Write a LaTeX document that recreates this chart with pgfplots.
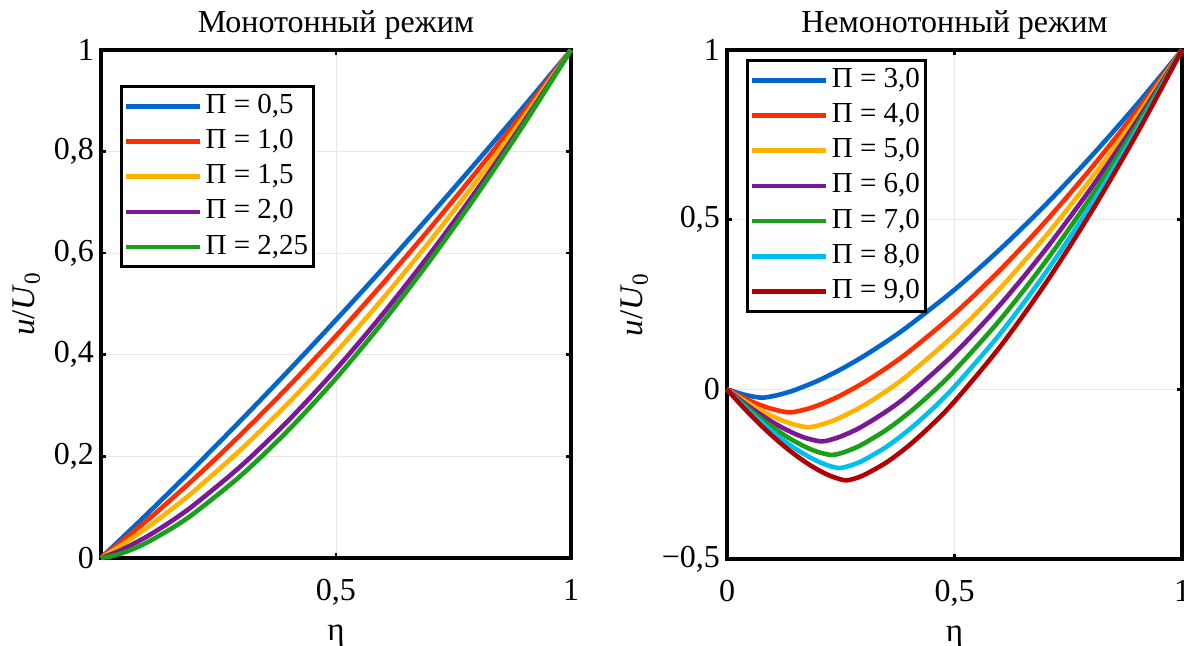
\documentclass[border=0pt]{standalone}
\usepackage{fontspec}
\setmainfont{Liberation Serif}
\usepackage{pgfplots}
\pgfplotsset{compat=1.18}

\definecolor{cA}{RGB}{0,102,204}
\definecolor{cB}{RGB}{255,45,0}
\definecolor{cC}{RGB}{255,178,0}
\definecolor{cD}{RGB}{122,24,150}
\definecolor{cE}{RGB}{24,160,24}
\definecolor{cF}{RGB}{0,190,240}
\definecolor{cG}{RGB}{178,0,0}

\pgfplotsset{
  panel/.style={
    scale only axis, clip=false, anchor=south west,
    axis line style={line width=1.6pt},
    grid=major, major grid style={line width=0.4pt, gray!18},
    tick style={line width=1.3pt, black}, major tick length=2.5pt, tick align=inside,
    tick label style={font=\fontsize{16}{18}\selectfont},
    label style={font=\fontsize{16.5}{18}\selectfont},
    title style={font=\fontsize{16}{18}\selectfont, yshift=-4pt},
    xticklabel shift=7pt,
    xlabel style={yshift=-3pt},
    every axis plot/.append style={line width=2.3pt, smooth, line join=round},
    legend cell align=left,
    legend style={draw=black, line width=1.6pt, anchor=north west,
      font=\fontsize{14.5}{16}\selectfont, inner sep=1pt, row sep=0pt,
      nodes={text height=10.5pt, text depth=3.5pt, inner sep=1.8pt}},
    legend image code/.code={\draw[#1, line width=2.3pt] (0pt,0pt) -- (37pt,0pt);},
  }
}

\begin{document}
\begin{tikzpicture}
\begin{axis}[panel, at={(50.5pt,44pt)}, width=235pt, height=254pt,
  xmin=0, xmax=1, ymin=0, ymax=1,
  xtick={0.5,1}, xticklabels={{0,5},{1}},
  ytick={0,0.2,0.4,0.6,0.8,1}, yticklabels={{0},{0,2},{0,4},{0,6},{0,8},{1}},
  xlabel={η}, ylabel={\textit{u}/\textit{U}\textsubscript{0}},
  title={Монотонный режим},
  legend style={at={(0.04,0.931)}}]
\addplot[cA] coordinates {(0,0)(0.1,0.0883)(0.2,0.1795)(0.3,0.2733)(0.4,0.3697)(0.5,0.4687)(0.6,0.5702)(0.7,0.6742)(0.8,0.7805)(0.9,0.8891)(1,1)};
\addlegendentry{Π = 0,5}
\addplot[cB] coordinates {(0,0)(0.1,0.0756)(0.2,0.1575)(0.3,0.2453)(0.4,0.3386)(0.5,0.4372)(0.6,0.5407)(0.7,0.6489)(0.8,0.7616)(0.9,0.8787)(1,1)};
\addlegendentry{Π = 1,0}
\addplot[cC] coordinates {(0,0)(0.05,0.0290)(0.1,0.0611)(0.15,0.0960)(0.2,0.1334)(0.3,0.2155)(0.4,0.3063)(0.5,0.4050)(0.6,0.5110)(0.7,0.6239)(0.8,0.7432)(0.9,0.8687)(1,1)};
\addlegendentry{Π = 1,5}
\addplot[cD] coordinates {(0,0)(0.025,0.0086)(0.05,0.0188)(0.1,0.0434)(0.15,0.0727)(0.2,0.1060)(0.3,0.1829)(0.4,0.2719)(0.5,0.3715)(0.6,0.4807)(0.7,0.5987)(0.8,0.7249)(0.9,0.8588)(1,1)};
\addlegendentry{Π = 2,0}
\addplot[cE] coordinates {(0,0)(0.025,0.0040)(0.05,0.0112)(0.075,0.0205)(0.1,0.0316)(0.15,0.0581)(0.2,0.0894)(0.3,0.1643)(0.4,0.2530)(0.5,0.3536)(0.6,0.4648)(0.7,0.5857)(0.8,0.7155)(0.9,0.8538)(1,1)};
\addlegendentry{Π = 2,25}
\end{axis}

\begin{axis}[panel, at={(363.5pt,43.5pt)}, width=227.5pt, height=254.5pt,
  xmin=0, xmax=1, ymin=-0.5, ymax=1,
  xtick={0,0.5,1}, xticklabels={{0},{0,5},{1}},
  ytick={-0.5,0,0.5,1}, yticklabels={{−0,5},{0},{0,5},{1}},
  xlabel={η}, ylabel={\textit{u}/\textit{U}\textsubscript{0}},
  title={Немонотонный режим},
  legend style={at={(0.042,0.982)}}]
\addplot[cA] coordinates {(0,0)(0.025,-0.0109)(0.05,-0.0195)(0.0767,-0.0245)(0.1,-0.0204)(0.125,-0.0122)(0.15,-0.0016)(0.2,0.0255)(0.25,0.0588)(0.3,0.0974)(0.35,0.1405)(0.4,0.1878)(0.5,0.2936)(0.6,0.4127)(0.7,0.5438)(0.8,0.6859)(0.9,0.8382)(1,1)};
\addlegendentry{Π = 3,0}
\addplot[cB] coordinates {(0,0)(0.025,-0.0177)(0.05,-0.0335)(0.075,-0.0472)(0.1,-0.0583)(0.1375,-0.0680)(0.175,-0.0583)(0.2,-0.0472)(0.225,-0.0335)(0.25,-0.0177)(0.3,0.0194)(0.35,0.0626)(0.4,0.1113)(0.5,0.2230)(0.6,0.3514)(0.7,0.4945)(0.8,0.6510)(0.9,0.8198)(1,1)};
\addlegendentry{Π = 4,0}
\addplot[cC] coordinates {(0,0)(0.025,-0.0227)(0.05,-0.0436)(0.075,-0.0626)(0.1,-0.0794)(0.125,-0.0936)(0.15,-0.1048)(0.1777,-0.1117)(0.2,-0.1067)(0.225,-0.0963)(0.25,-0.0827)(0.3,-0.0479)(0.35,-0.0051)(0.4,0.0446)(0.5,0.1611)(0.6,0.2974)(0.7,0.4510)(0.8,0.6201)(0.9,0.8034)(1,1)};
\addlegendentry{Π = 5,0}
\addplot[cD] coordinates {(0,0)(0.025,-0.0270)(0.05,-0.0522)(0.075,-0.0754)(0.1,-0.0966)(0.125,-0.1154)(0.15,-0.1315)(0.175,-0.1443)(0.2068,-0.1536)(0.225,-0.1496)(0.25,-0.1389)(0.275,-0.1245)(0.3,-0.1071)(0.35,-0.0651)(0.4,-0.0149)(0.5,0.1057)(0.6,0.2491)(0.7,0.4120)(0.8,0.5925)(0.9,0.7889)(1,1)};
\addlegendentry{Π = 6,0}
\addplot[cE] coordinates {(0,0)(0.025,-0.0308)(0.05,-0.0597)(0.075,-0.0867)(0.1,-0.1116)(0.125,-0.1342)(0.15,-0.1542)(0.175,-0.1713)(0.2,-0.1847)(0.2292,-0.1935)(0.25,-0.1883)(0.275,-0.1763)(0.3,-0.1603)(0.35,-0.1195)(0.4,-0.0690)(0.45,-0.0105)(0.5,0.0550)(0.6,0.2047)(0.7,0.3762)(0.8,0.5671)(0.9,0.7755)(1,1)};
\addlegendentry{Π = 7,0}
\addplot[cF] coordinates {(0,0)(0.025,-0.0343)(0.05,-0.0666)(0.075,-0.0970)(0.1,-0.1253)(0.125,-0.1512)(0.15,-0.1746)(0.175,-0.1952)(0.2,-0.2124)(0.225,-0.2255)(0.2472,-0.2318)(0.275,-0.2230)(0.3,-0.2089)(0.35,-0.1696)(0.4,-0.1191)(0.45,-0.0596)(0.5,0.0079)(0.6,0.1634)(0.7,0.3428)(0.8,0.5432)(0.9,0.7628)(1,1)};
\addlegendentry{Π = 8,0}
\addplot[cG] coordinates {(0,0)(0.025,-0.0375)(0.05,-0.0730)(0.075,-0.1065)(0.1,-0.1378)(0.125,-0.1668)(0.15,-0.1932)(0.175,-0.2168)(0.2,-0.2373)(0.225,-0.2539)(0.25,-0.2655)(0.2619,-0.2681)(0.275,-0.2651)(0.3,-0.2532)(0.35,-0.2158)(0.4,-0.1654)(0.45,-0.1049)(0.5,-0.0357)(0.6,0.1251)(0.7,0.3119)(0.8,0.5214)(0.9,0.7514)(1,1)};
\addlegendentry{Π = 9,0}
\end{axis}
\pgfresetboundingbox
\path[use as bounding box] (0,0) rectangle (592pt,323pt);
\end{tikzpicture}
\end{document}
